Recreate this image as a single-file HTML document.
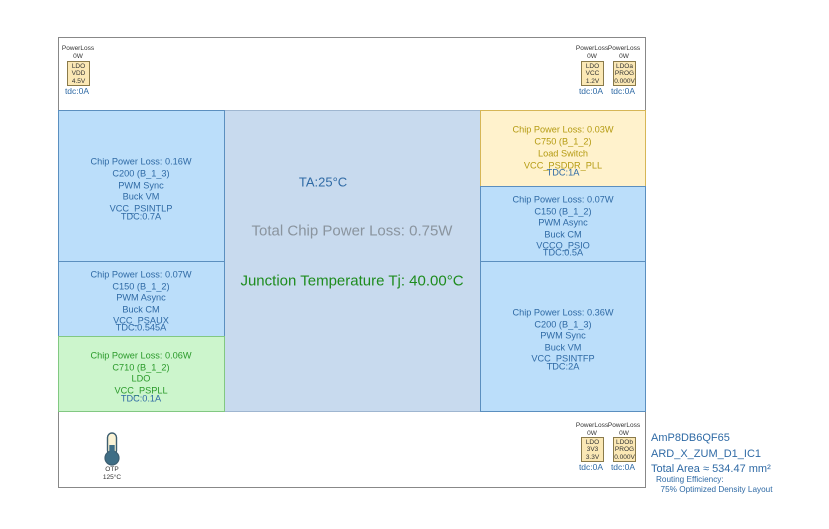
<!DOCTYPE html>
<html><head><style>
body{margin:0;width:829px;height:529px;background:#fff;font-family:"Liberation Sans",sans-serif;position:relative;overflow:hidden}
.a{position:absolute;box-sizing:border-box}
.t{position:absolute;transform:translate(-50%,-50%);white-space:nowrap;font-size:9.2px;line-height:1}
.blue{background:#bbdefa;border:1px solid #5b8fbf;color:#2f6aa5}
.yel{background:#fff2cc;border:1px solid #d6b656;color:#b59b12}
.grn{background:#ccf5cc;border:1px solid #82c882;color:#2a9a2a}
.ldo{position:absolute;box-sizing:border-box;width:23px;height:25px;background:#fbe8b5;border:1px solid #8a7a4a;font-size:6.5px;line-height:7.3px;text-align:center;padding-top:1px;color:#333}
.s{position:absolute;font-size:6.5px;text-align:center;color:#333;line-height:7.5px;transform:translateX(-50%);white-space:nowrap}
.td{position:absolute;font-size:8.5px;color:#2f6aa5;transform:translateX(-50%)}
</style></head><body>
<div class="a" style="left:58px;top:37px;width:588px;height:451px;border:1px solid #888;"></div>
<div class="a" style="left:58px;top:110px;width:588px;height:1px;background:#d0b070"></div>
<div class="a" style="left:58px;top:411px;width:588px;height:1px;background:#d0b070"></div>

<div class="a" style="left:224px;top:110px;width:257px;height:302px;background:#c8daee;border:1px solid #9fb6d0"></div>
<div class="t" style="left:323px;top:182px;font-size:13px;color:#2f6aa5">TA:25°C</div>
<div class="t" style="left:352px;top:231px;font-size:15px;color:#8a949e">Total Chip Power Loss: 0.75W</div>
<div class="t" style="left:352px;top:281px;font-size:15px;color:#1e8c1e">Junction Temperature Tj: 40.00°C</div>

<div class="a blue" style="left:58px;top:110px;width:167px;height:152px"></div>
<div class="t" style="left:141px;top:162px;color:#2f6aa5">Chip Power Loss: 0.16W</div>
<div class="t" style="left:141px;top:174px;color:#2f6aa5">C200 (B_1_3)</div>
<div class="t" style="left:141px;top:186px;color:#2f6aa5">PWM Sync</div>
<div class="t" style="left:141px;top:197px;color:#2f6aa5">Buck VM</div>
<div class="t" style="left:141px;top:209px;color:#2f6aa5">VCC_PSINTLP</div>
<div class="t" style="left:141px;top:217px;color:#2f6aa5">TDC:0.7A</div>

<div class="a blue" style="left:58px;top:261px;width:167px;height:76px"></div>
<div class="t" style="left:141px;top:275px;color:#2f6aa5">Chip Power Loss: 0.07W</div>
<div class="t" style="left:141px;top:287px;color:#2f6aa5">C150 (B_1_2)</div>
<div class="t" style="left:141px;top:298px;color:#2f6aa5">PWM Async</div>
<div class="t" style="left:141px;top:310px;color:#2f6aa5">Buck CM</div>
<div class="t" style="left:141px;top:321px;color:#2f6aa5">VCC_PSAUX</div>
<div class="t" style="left:141px;top:328px;color:#2f6aa5">TDC:0.545A</div>

<div class="a grn" style="left:58px;top:336px;width:167px;height:76px"></div>
<div class="t" style="left:141px;top:356px;color:#2a9a2a">Chip Power Loss: 0.06W</div>
<div class="t" style="left:141px;top:368px;color:#2a9a2a">C710 (B_1_2)</div>
<div class="t" style="left:141px;top:379px;color:#2a9a2a">LDO</div>
<div class="t" style="left:141px;top:391px;color:#2a9a2a">VCC_PSPLL</div>
<div class="t" style="left:141px;top:399px;color:#2f6aa5">TDC:0.1A</div>

<div class="a yel" style="left:480px;top:110px;width:166px;height:77px"></div>
<div class="t" style="left:563px;top:130px;color:#b59b12">Chip Power Loss: 0.03W</div>
<div class="t" style="left:563px;top:142px;color:#b59b12">C750 (B_1_2)</div>
<div class="t" style="left:563px;top:154px;color:#b59b12">Load Switch</div>
<div class="t" style="left:563px;top:166px;color:#b59b12">VCC_PSDDR_PLL</div>
<div class="t" style="left:563px;top:173px;color:#2f6aa5">TDC:1A</div>

<div class="a blue" style="left:480px;top:186px;width:166px;height:76px"></div>
<div class="t" style="left:563px;top:200px;color:#2f6aa5">Chip Power Loss: 0.07W</div>
<div class="t" style="left:563px;top:212px;color:#2f6aa5">C150 (B_1_2)</div>
<div class="t" style="left:563px;top:223px;color:#2f6aa5">PWM Async</div>
<div class="t" style="left:563px;top:235px;color:#2f6aa5">Buck CM</div>
<div class="t" style="left:563px;top:246px;color:#2f6aa5">VCCO_PSIO</div>
<div class="t" style="left:563px;top:253px;color:#2f6aa5">TDC:0.5A</div>

<div class="a blue" style="left:480px;top:261px;width:166px;height:151px"></div>
<div class="t" style="left:563px;top:313px;color:#2f6aa5">Chip Power Loss: 0.36W</div>
<div class="t" style="left:563px;top:325px;color:#2f6aa5">C200 (B_1_3)</div>
<div class="t" style="left:563px;top:336px;color:#2f6aa5">PWM Sync</div>
<div class="t" style="left:563px;top:348px;color:#2f6aa5">Buck VM</div>
<div class="t" style="left:563px;top:359px;color:#2f6aa5">VCC_PSINTFP</div>
<div class="t" style="left:563px;top:367px;color:#2f6aa5">TDC:2A</div>

<div class="s" style="left:78px;top:45px">PowerLoss<br>0W</div>
<div class="ldo" style="left:67px;top:61px">LDO<br>VDD<br>4.5V</div>
<div class="td" style="left:77px;top:86px">tdc:0A</div>

<div class="s" style="left:592px;top:45px">PowerLoss<br>0W</div>
<div class="ldo" style="left:581px;top:61px">LDO<br>VCC<br>1.2V</div>
<div class="td" style="left:591px;top:86px">tdc:0A</div>
<div class="s" style="left:624px;top:45px">PowerLoss<br>0W</div>
<div class="ldo" style="left:613px;top:61px">LDOa<br>PROG<br>0.000V</div>
<div class="td" style="left:623px;top:86px">tdc:0A</div>

<div class="s" style="left:592px;top:422px">PowerLoss<br>0W</div>
<div class="ldo" style="left:581px;top:437px">LDO<br>3V3<br>3.3V</div>
<div class="td" style="left:591px;top:462px">tdc:0A</div>
<div class="s" style="left:624px;top:422px">PowerLoss<br>0W</div>
<div class="ldo" style="left:613px;top:437px">LDOb<br>PROG<br>0.000V</div>
<div class="td" style="left:623px;top:462px">tdc:0A</div>

<svg class="a" style="left:102px;top:432px" width="20" height="34" viewBox="0 0 20 34">
<rect x="5.5" y="1" width="9" height="22" rx="4.5" fill="#fbf3d5" stroke="#3d5e70" stroke-width="1.4"/>
<circle cx="10" cy="26" r="7" fill="#3f6e86" stroke="#3d5e70" stroke-width="1.2"/>
<rect x="7.3" y="13" width="5.4" height="13" fill="#3f6e86"/>
</svg>
<div class="s" style="left:112px;top:466px">OTP<br>125°C</div>

<div class="a" style="left:651px;top:431px;font-size:11px;color:#2f6aa5;line-height:15.5px">AmP8DB6QF65<br>ARD_X_ZUM_D1_IC1<br>Total Area ≈ 534.47 mm²</div>
<div class="a" style="left:656px;top:475px;font-size:8.2px;color:#2f6aa5;line-height:10px">Routing Efficiency:<br>&nbsp;&nbsp;75% Optimized Density Layout</div>
</body></html>
